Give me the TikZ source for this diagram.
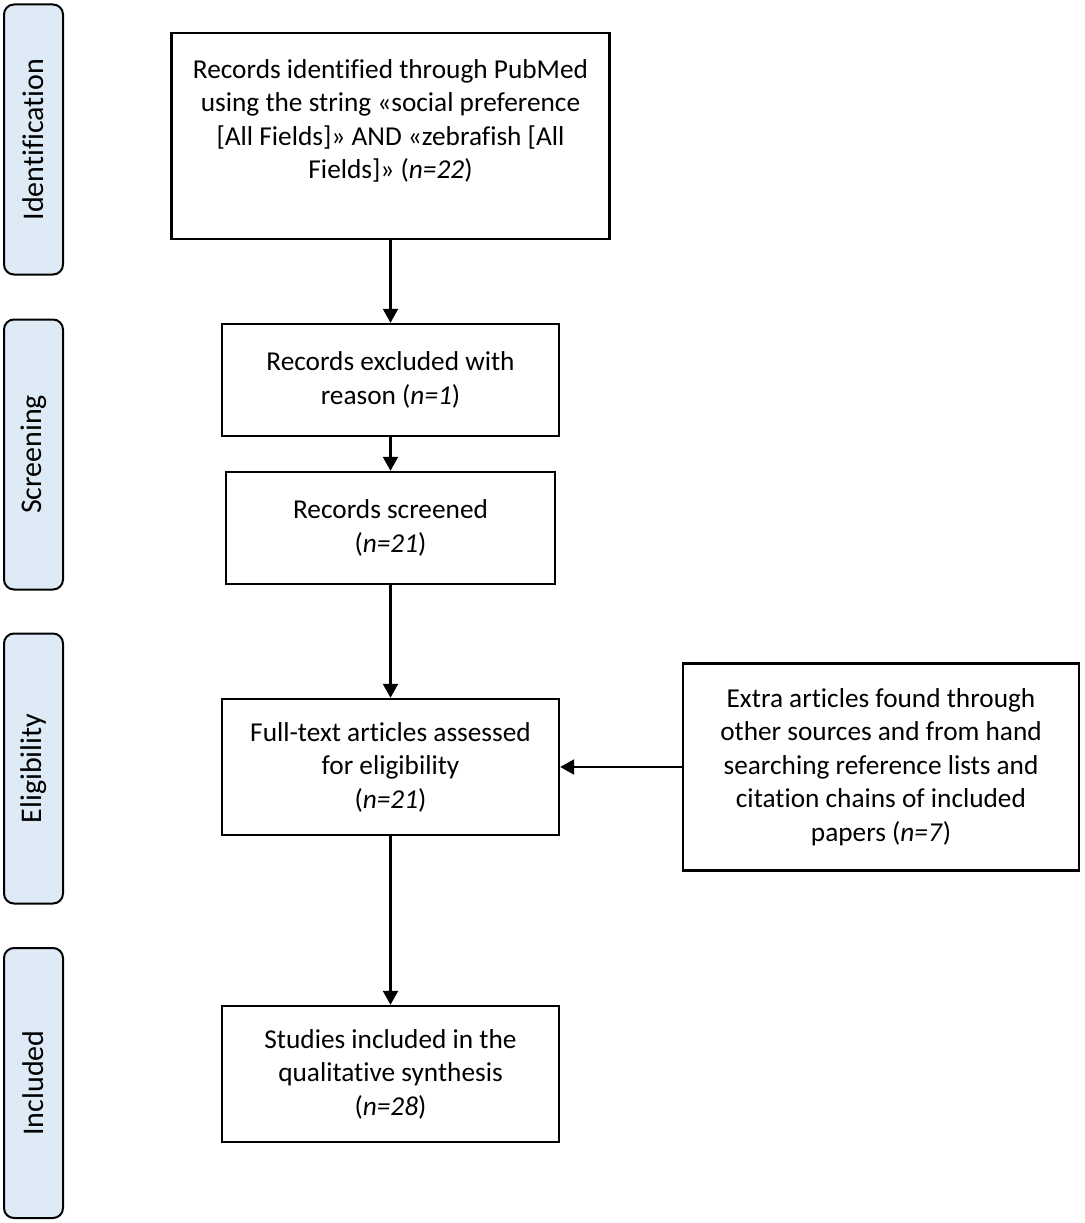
\documentclass[tikz,border=0pt]{standalone}
\usepackage{fontspec}
\setmainfont{Carlito}[Ligatures=NoCommon]
\usetikzlibrary{arrows.meta}
\definecolor{phasefill}{HTML}{DEEBF7}
\begin{document}
\begin{tikzpicture}[x=1pt,y=-1pt,
  every node/.style={font=\fontsize{27.3}{33.5}\selectfont},
  box/.style={draw=black, line width=2.4pt, align=center, inner sep=0pt},
  phase/.style={draw=black, fill=phasefill, line width=2pt, rounded corners=10pt,
    minimum width=59pt, minimum height=270pt, inner sep=0pt},
  phasetext/.style={rotate=90, font=\fontsize{30}{36}\selectfont},
  flow/.style={line width=2.2pt, -{Triangle[length=14pt,width=15pt]}}]
\useasboundingbox (0,0) rectangle (1084,1223);

% phase labels
\node[phase] (pid) at (33.5,139.5) {};
\node[phasetext] (tid) at (pid.center) {Identification};
\node[phase] (psc) at (33.5,454.5) {};
\node[phasetext] (tsc) at (psc.center) {Screening};
\node[phase] (pel) at (33.5,768.5) {};
\node[phasetext] (tel) at (pel.center) {Eligibility};
\node[phase] (pin) at (33.5,1083) {};
\node[phasetext] (tin) at (pin.center) {Included};

% flow boxes
\node[box, minimum width=438pt, minimum height=206pt] (ident) at (390.5,136)
  {Records identified through PubMed\\using the string «social preference\\{}[All Fields]» AND «zebrafish [All\\Fields]» (\textit{n=22})\\\mbox{}};
\node[box, minimum width=337pt, minimum height=112pt] (excl) at (390.5,380)
  {Records excluded with\\reason (\textit{n=1})};
\node[box, minimum width=329pt, minimum height=112pt] (screen) at (390.5,528)
  {Records screened\\(\textit{n=21})};
\node[box, minimum width=337pt, minimum height=136pt] (full) at (390.5,767)
  {Full-text articles assessed\\for eligibility\\(\textit{n=21})};
\node[box, minimum width=396pt, minimum height=207pt] (extra) at (881,767)
  {Extra articles found through\\other sources and from hand\\searching reference lists and\\citation chains of included\\papers (\textit{n=7})};
\node[box, minimum width=337pt, minimum height=136pt] (incl) at (390.5,1074)
  {Studies included in the\\qualitative synthesis\\(\textit{n=28})};

% connectors
\draw[flow] (ident.south) -- (excl.north);
\draw[flow] (excl.south) -- (screen.north);
\draw[flow] (screen.south) -- (full.north);
\draw[flow] (full.south) -- (incl.north);
\draw[flow] (extra.west) -- (full.east);
\end{tikzpicture}
\end{document}
